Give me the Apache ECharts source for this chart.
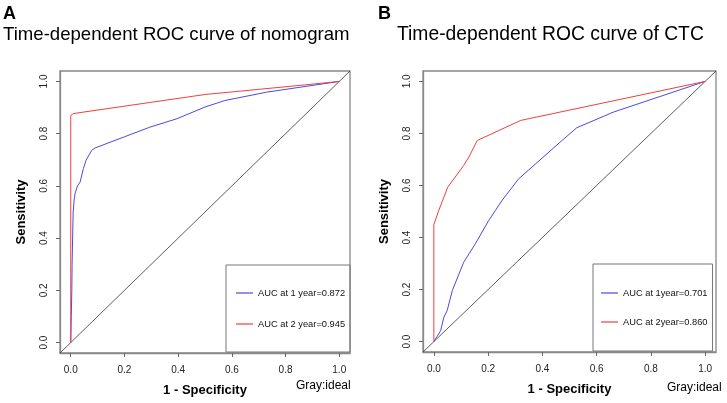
<!DOCTYPE html>
<html>
<head>
<meta charset="utf-8">
<script src="https://cdn.jsdelivr.net/npm/echarts@6/dist/echarts.min.js"></script>
<style>
  html, body { margin: 0; padding: 0; background: #fff; }
  #chart { width: 727px; height: 403px; }
</style>
</head>
<body>
<div id="chart"></div>
<script>
// ROC points (x = 1 - specificity, y = sensitivity)
var nomo1X = [0, 0.002, 0.004, 0.005, 0.007, 0.009, 0.013, 0.016, 0.025, 0.035, 0.047, 0.057, 0.078, 0.09, 0.2, 0.295, 0.395, 0.5, 0.574, 0.73, 1];
var nomo1Y = [0, 0.1, 0.2, 0.3, 0.4, 0.5, 0.55, 0.57, 0.6, 0.615, 0.666, 0.698, 0.736, 0.745, 0.788, 0.825, 0.857, 0.902, 0.927, 0.959, 1];
var nomo2X = [0, 0, 0.01, 0.5, 0.854, 1];
var nomo2Y = [0, 0.87, 0.877, 0.95, 0.985, 1];

var ctc1X = [0, 0.012, 0.025, 0.037, 0.049, 0.068, 0.11, 0.153, 0.202, 0.227, 0.251, 0.313, 0.466, 0.527, 0.662, 1];
var ctc1Y = [0, 0.02, 0.042, 0.094, 0.119, 0.196, 0.305, 0.376, 0.465, 0.504, 0.542, 0.626, 0.767, 0.822, 0.882, 1];
var ctc2X = [0, 0, 0.018, 0.051, 0.11, 0.129, 0.16, 0.32, 1];
var ctc2Y = [0, 0.45, 0.504, 0.593, 0.677, 0.709, 0.773, 0.85, 1];

var ideal = [[-0.04, -0.04], [1.04, 1.04]];
var ticks = [0, 0.2, 0.4, 0.6, 0.8, 1.0];

var names = ['AUC at 1 year=0.872', 'AUC at 2 year=0.945', 'AUC at 1year=0.701', 'AUC at 2year=0.860'];

function zip(xs, ys) {
    return xs.map(function (x, i) { return [x, ys[i]]; });
}

var FONT = 'Liberation Sans, Arial, sans-serif';
var BLUE = '#4a4ae0';
var RED = '#ee4040';

function xAxisFor(idx) {
    return {
        gridIndex: idx, type: 'value', min: -0.04, max: 1.04,
        splitLine: { show: false },
        axisLine: { show: true, onZero: false, lineStyle: { color: '#888', width: 1.3 } },
        axisTick: { show: true, inside: false, customValues: ticks, length: 4, lineStyle: { color: '#666' } },
        axisLabel: {
            customValues: ticks, margin: 12, fontSize: 10, color: '#222', fontFamily: FONT,
            formatter: function (v) { return v.toFixed(1); }
        },
        name: '1 - Specificity', nameLocation: 'middle', nameGap: 31,
        nameTextStyle: { fontSize: 13, fontWeight: 'bold', color: '#000', fontFamily: FONT }
    };
}
function yAxisFor(idx) {
    return {
        gridIndex: idx, type: 'value', min: -0.04, max: 1.04,
        splitLine: { show: false },
        axisLine: { show: true, onZero: false, lineStyle: { color: '#888', width: 1.3 } },
        axisTick: { show: true, inside: false, customValues: ticks, length: 4, lineStyle: { color: '#666' } },
        axisLabel: {
            customValues: ticks, rotate: 90, margin: 11, fontSize: 10, color: '#222', fontFamily: FONT,
            formatter: function (v) { return v.toFixed(1); }
        },
        name: 'Sensitivity', nameLocation: 'middle', nameGap: 32, nameRotate: 90,
        nameTextStyle: { fontSize: 13, fontWeight: 'bold', color: '#000', fontFamily: FONT }
    };
}
function curve(name, idx, data, color) {
    return {
        name: name, type: 'line', xAxisIndex: idx, yAxisIndex: idx,
        data: data, symbol: 'none', smooth: false, animation: false,
        lineStyle: { color: color, width: 1 }, itemStyle: { color: color }
    };
}
function diag(idx) {
    return {
        type: 'line', xAxisIndex: idx, yAxisIndex: idx, data: ideal,
        symbol: 'none', animation: false, silent: true,
        lineStyle: { color: '#333', width: 0.8 }
    };
}
function legendFor(names, left, top, pad) {
    return {
        data: names, orient: 'vertical', left: left, top: top,
        icon: 'rect', itemWidth: 17, itemHeight: 1.2, itemGap: pad.gap,
        padding: pad.p, borderColor: '#777', borderWidth: 1,
        textStyle: { fontSize: 9.3, color: '#111', fontFamily: FONT, lineHeight: 12 },
        selectedMode: false
    };
}

var chart = echarts.init(document.getElementById('chart'), null, { renderer: 'canvas' });
chart.setOption({
    backgroundColor: '#fff',
    animation: false,
    title: [
        { text: 'A', left: 3, top: 5, padding: 0, textStyle: { fontSize: 18, fontWeight: 'bold', color: '#000', fontFamily: FONT } },
        { text: 'Time-dependent ROC curve of nomogram', left: 3, top: 25, padding: 0, textStyle: { fontSize: 18.6, fontWeight: 'normal', color: '#000', fontFamily: FONT } },
        { text: 'B', left: 378, top: 5, padding: 0, textStyle: { fontSize: 18, fontWeight: 'bold', color: '#000', fontFamily: FONT } },
        { text: 'Time-dependent ROC curve of CTC', left: 397, top: 25, padding: 0, textStyle: { fontSize: 19.3, fontWeight: 'normal', color: '#000', fontFamily: FONT } },
        { text: 'Gray:ideal', left: 296, top: 380, padding: 0, textStyle: { fontSize: 12, fontWeight: 'normal', color: '#000', fontFamily: FONT } },
        { text: 'Gray:ideal', left: 667, top: 382, padding: 0, textStyle: { fontSize: 12, fontWeight: 'normal', color: '#000', fontFamily: FONT } }
    ],
    grid: [
        { left: 60, top: 71, width: 290, height: 282, show: true, borderColor: '#888', borderWidth: 1.3, backgroundColor: 'transparent' },
        { left: 423, top: 71, width: 293, height: 281, show: true, borderColor: '#888', borderWidth: 1.3, backgroundColor: 'transparent' }
    ],
    xAxis: [xAxisFor(0), xAxisFor(1)],
    yAxis: [yAxisFor(0), yAxisFor(1)],
    legend: [
        legendFor([names[0], names[1]], 226, 265, { gap: 19, p: [22, 5, 22, 10] }),
        legendFor([names[2], names[3]], 593, 264, { gap: 17, p: [23, 5, 23, 8] })
    ],
    series: [
        diag(0),
        curve(names[0], 0, zip(nomo1X, nomo1Y), BLUE),
        curve(names[1], 0, zip(nomo2X, nomo2Y), RED),
        diag(1),
        curve(names[2], 1, zip(ctc1X, ctc1Y), BLUE),
        curve(names[3], 1, zip(ctc2X, ctc2Y), RED)
    ]
});
</script>
</body>
</html>
